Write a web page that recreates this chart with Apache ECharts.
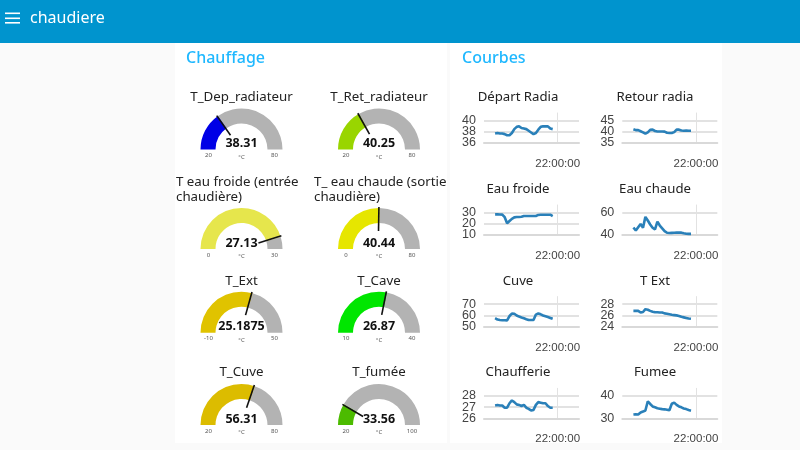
<!DOCTYPE html>
<html>
<head>
<meta charset="utf-8">
<title>chaudiere</title>
<script src="https://cdn.jsdelivr.net/npm/echarts@6/dist/echarts.min.js"></script>
<style>
  html, body { margin: 0; padding: 0; background: #fafafa; }
  #chart { width: 800px; height: 450px; }
</style>
</head>
<body>
<div id="chart"></div>
<script>
const UI_FONT = '"Noto Sans", "Open Sans", sans-serif';
const AXIS_FONT = '"Liberation Sans", sans-serif';

// gauges
const gaugeNames = ['T_Dep_radiateur', 'T_Ret_radiateur', 'T eau froide (entrée\nchaudière)', 'T_ eau chaude (sortie\nchaudière)', 'T_Ext', 'T_Cave', 'T_Cuve', 'T_fumée'];
const gaugeValues = [38.31, 40.25, 27.13, 40.44, 25.1875, 26.87, 56.31, 33.56];
const gaugeMins = [20, 20, 0, 0, -10, 10, 20, 20];
const gaugeMaxs = [80, 80, 30, 80, 50, 40, 80, 100];
const gaugeColors = ['#0000e6', '#99d500', '#e6e64c', '#e6e600', '#e0c300', '#00e600', '#dcbc00', '#4cbb00'];

// line charts
const lineNames = ['Départ Radia', 'Retour radia', 'Eau froide', 'Eau chaude', 'Cuve', 'T Ext', 'Chaufferie', 'Fumee'];
const yMins = [36, 35, 10, 40, 50, 24, 26, 30];
const yMaxs = [41.4, 48.5, 36.9, 67, 76.7, 29.3, 28.69, 43.4];
const yIntervals = [2, 5, 10, 20, 10, 2, 1, 10];
const tickTime = '22:00:00';
// minutes before the 22:00:00 tick, shared by all curves
const minutesBefore = [62.6, 60.2, 57.8, 55.4, 53, 50.6, 48.2, 45.8, 43.4, 41, 38.6, 36.2, 33.8, 31.4, 29, 26.6, 24.2, 21.8, 19.4, 17, 14.6, 12.2, 9.8, 7.4, 5];
const departRadia = [37.7, 37.8, 37.7, 37.7, 37.6, 37.4, 37.4, 37.8, 38.5, 38.9, 39, 38.7, 38.6, 38.5, 38.2, 37.9, 37.6, 37.8, 38.4, 38.9, 39, 39, 39, 38.6, 38.5];
const retourRadia = [41.2, 40.8, 40.8, 40.3, 39.8, 39.2, 39.8, 40.9, 41, 40.4, 40.2, 40.2, 40.2, 40.1, 39.6, 39.5, 39.5, 39.9, 41, 41, 40.6, 40.5, 40.6, 40.5, 40.5];
const eauFroide = [28.5, 28.5, 28.4, 28.3, 26, 20.5, 22.5, 24.5, 25.8, 26.2, 26.2, 26.3, 27, 27, 27, 27, 27, 27.1, 28, 28.1, 28.1, 28.2, 28.2, 28.2, 27];
const eauChaude = [46.8, 44, 47, 50, 46.5, 56.3, 53, 49.5, 46.5, 45, 52, 48.5, 46, 43.5, 42, 41.8, 41.9, 42, 42.1, 42.1, 42.1, 41.5, 41.1, 41, 41];
const cuve = [57.6, 56.4, 56, 55.8, 55.7, 55.6, 59.5, 61.7, 61.5, 60, 59, 58.2, 57.5, 56.7, 56, 55.9, 56, 60.8, 61.8, 61, 60, 59.3, 58.6, 57.8, 57];
const tExt = [26.8, 26.8, 26.8, 26.5, 26.6, 27.1, 27, 26.8, 26.65, 26.55, 26.55, 26.5, 26.5, 26.35, 26.3, 26.2, 26.1, 26.05, 26, 25.9, 25.75, 25.65, 25.55, 25.45, 25.4];
const chaufferie = [27.15, 27.2, 27.15, 27.15, 26.95, 26.95, 27.35, 27.6, 27.45, 27.25, 27.2, 27.1, 27.2, 26.95, 26.85, 26.7, 26.75, 27.2, 27.45, 27.4, 27.35, 27.35, 27.1, 26.95, 26.95];
const fumee = [31.7, 31.8, 31.7, 32.6, 33, 33.5, 37.6, 36.4, 35.3, 34.9, 34.5, 34.3, 34.1, 34, 33.8, 33.6, 36.5, 37, 36, 35.3, 34.9, 34.4, 34.1, 33.7, 33.4];
const lineData = [departRadia, retourRadia, eauFroide, eauChaude, cuve, tExt, chaufferie, fumee];

// layout
const gaugeX = [241.5, 379];
const gaugeY = [149.5, 249, 332.7, 425];
const gridX = [484, 622.3];
const gridW = 95;
const gridTops = [113, 205, 296.7, 388.3];
const gridH = 30;
const titleYs = [97.5, 189.5, 281.5, 372.5];
const lineTitleX = [518, 655];

// x axis in minutes, 0 is the 22:00:00 tick
const axisMin = -73.7;
const axisMax = axisMin + gridW;

const text = (x, y, str, size, color, extra) => ({
  type: 'text',
  x,
  y,
  silent: true,
  style: {
    text: str, fontSize: size, fontFamily: UI_FONT, fill: color, align: 'center', verticalAlign: 'middle', ...extra,
  },
});

const graphic = [
  { type: 'rect', z: -10, shape: { x: 0, y: 0, width: 800, height: 43 }, style: { fill: '#0094ce' } },
  { type: 'rect', z: -10, shape: { x: 175, y: 43, width: 272, height: 400 }, style: { fill: '#fff' } },
  { type: 'rect', z: -10, shape: { x: 450, y: 43, width: 272, height: 400 }, style: { fill: '#fff' } },
  ...[12.5, 17.5, 22].map((y) => ({ type: 'rect', shape: { x: 5, y, width: 15, height: 1.6 }, style: { fill: '#fff' } })),
  text(30, 18, 'chaudiere', 16, '#fff', { align: 'left' }),
  text(186, 58, 'Chauffage', 16, '#1fb8ff', { align: 'left', fontWeight: 500 }),
  text(462, 58, 'Courbes', 16, '#1fb8ff', { align: 'left', fontWeight: 500 }),
];

const series = [];
gaugeNames.forEach((name, i) => {
  const col = i % 2;
  const row = Math.floor(i / 2);
  const cx = gaugeX[col];
  const cy = gaugeY[row];
  const ratio = (gaugeValues[i] - gaugeMins[i]) / (gaugeMaxs[i] - gaugeMins[i]);
  series.push({
    type: 'gauge',
    center: [cx, cy],
    radius: 41,
    startAngle: 180,
    endAngle: 0,
    min: gaugeMins[i],
    max: gaugeMaxs[i],
    axisLine: { lineStyle: { width: 15, color: [[ratio, gaugeColors[i]], [1, '#b3b3b3']] } },
    axisTick: { show: false },
    splitLine: { show: false },
    axisLabel: { show: false },
    pointer: {
      icon: 'rect', length: 24, width: 1.6, offsetCenter: [-0.8, -18], itemStyle: { color: '#111' },
    },
    anchor: { show: false },
    title: { show: false },
    detail: {
      valueAnimation: false,
      offsetCenter: [0, -6],
      fontSize: 12.5,
      fontWeight: 'bold',
      fontFamily: UI_FONT,
      color: '#111',
      formatter: () => String(gaugeValues[i]),
    },
    data: [{ value: gaugeValues[i] }],
  });
  const multi = name.includes('\n');
  graphic.push(multi
    ? text(col ? 314 : 176, titleYs[row], name, 13.3, '#222', { align: 'left', lineHeight: 15 })
    : text(cx, titleYs[row], name, 13.3, '#222'));
  graphic.push(text(cx - 33, cy + 6, String(gaugeMins[i]), 6, '#555'));
  graphic.push(text(cx + 33, cy + 6, String(gaugeMaxs[i]), 6, '#555'));
  graphic.push(text(cx, cy + 7.5, '°C', 6, '#555'));
});

const yLabel = {
  margin: 8, fontSize: 12.5, fontFamily: AXIS_FONT, color: '#444',
};

const grid = [];
const xAxis = [];
const yAxis = [];
const yMinAxes = [];
lineNames.forEach((name, i) => {
  const col = i % 2;
  const row = Math.floor(i / 2);
  grid.push({ left: gridX[col], top: gridTops[row], width: gridW, height: gridH });
  xAxis.push({
    gridIndex: i,
    type: 'value',
    min: axisMin,
    max: axisMax,
    axisLine: { show: true, lineStyle: { color: '#d9d9d9', width: 2 } },
    axisTick: { show: false, customValues: [0] },
    splitLine: { show: true, lineStyle: { color: '#dedede', width: 1 } },
    axisLabel: {
      customValues: [0],
      margin: 15,
      fontSize: 11.5,
      fontFamily: AXIS_FONT,
      color: '#444',
      formatter: () => tickTime,
    },
  });
  yAxis.push({
    gridIndex: i,
    type: 'value',
    position: 'left',
    min: yMins[i],
    max: yMaxs[i],
    interval: yIntervals[i],
    axisLine: { show: true, lineStyle: { color: '#e2e2e2', width: 1 } },
    axisTick: { show: false },
    splitLine: { show: true, showMaxLine: false, lineStyle: { color: '#e2e2e2', width: 2 } },
    axisLabel: { ...yLabel, showMinLabel: false, showMaxLabel: false },
  });
  // the bottom label sits too close to the next one and gets dropped, so it has its own axis
  yMinAxes.push({
    gridIndex: i,
    type: 'value',
    position: 'left',
    min: yMins[i],
    max: yMaxs[i],
    axisLine: { show: false },
    axisTick: { show: false },
    splitLine: { show: false },
    axisLabel: { ...yLabel, customValues: [yMins[i]], showMinLabel: true },
  });
  series.push({
    type: 'line',
    xAxisIndex: i,
    yAxisIndex: i,
    showSymbol: false,
    symbol: 'none',
    lineStyle: { color: '#2a80b9', width: 2.6 },
    data: lineData[i].map((v, k) => [-minutesBefore[k], v]),
  });
  graphic.push(text(lineTitleX[col], titleYs[row], name, 13.2, '#222'));
});

const myChart = echarts.init(document.getElementById('chart'), null, { renderer: 'canvas' });
myChart.setOption({
  animation: false,
  backgroundColor: '#fafafa',
  graphic,
  grid,
  xAxis,
  yAxis: yAxis.concat(yMinAxes),
  series,
});
</script>
</body>
</html>
